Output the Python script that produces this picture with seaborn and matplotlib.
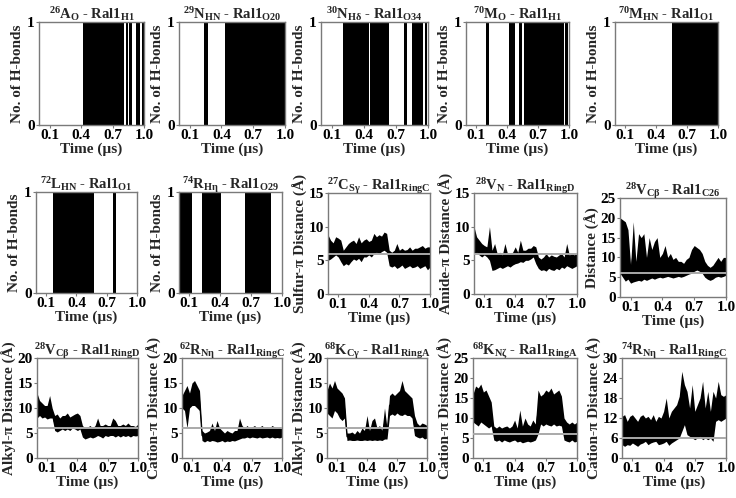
import numpy as np
import pandas as pd
import matplotlib
matplotlib.use("Agg")
import matplotlib.pyplot as plt
import seaborn as sns

# ---- H-bond occupancy: intervals (µs) where the H-bond is present ----
hb_26A = [(0.42, 0.81), (0.825, 0.845), (0.86, 0.89), (0.925, 0.965), (0.98, 1.0)]
hb_29N = [(0.24, 0.27), (0.43, 1.0)]
hb_30N = [(0.21, 0.45), (0.46, 0.64), (0.78, 0.80), (0.85, 0.955), (0.97, 0.99)]
hb_70M_O = [(0.19, 0.22), (0.42, 0.48), (0.515, 0.545), (0.565, 0.95), (0.965, 0.99)]
hb_70M_HN = [(0.55, 1.0)]
hb_72L = [(0.167, 0.577), (0.76, 0.79)]
hb_74R = [(0.0, 0.123), (0.22, 0.41), (0.64, 0.89)]

# ---- distance traces: lower / upper envelope every 0.025 µs ----
time = np.round(np.arange(41) * 0.025, 3)

c27_lo = [5.0, 5.2, 5.5, 5.8, 5.5, 4.8, 4.2, 4.5, 4.3, 4.8, 5.2, 5.0, 5.3, 4.8, 5.5, 5.5, 5.8, 5.5, 6.0, 6.2, 6.0,
          6.3, 6.5, 6.2, 4.2, 4.0, 4.2, 3.8, 4.0, 4.3, 3.8, 4.0, 4.2, 3.9, 4.0, 4.2, 3.8, 4.0, 4.2, 3.6, 4.0]
c27_hi = [8.8, 8.0, 7.6, 8.5, 8.3, 8.0, 6.5, 7.0, 7.5, 7.8, 8.0, 7.5, 8.5, 7.6, 8.0, 8.2, 7.8, 8.0, 9.0, 8.5, 8.8,
          8.6, 9.2, 9.0, 6.5, 6.2, 6.5, 7.5, 6.5, 6.8, 6.5, 6.6, 7.0, 6.5, 6.8, 6.8, 7.0, 7.2, 6.8, 7.0, 7.0]

v28n_lo = [6.0, 6.2, 5.8, 5.5, 5.8, 5.5, 5.0, 3.5, 3.6, 3.8, 4.0, 3.8, 4.0, 4.2, 4.0, 4.3, 4.5, 4.6, 4.8, 4.7, 5.0,
           5.0, 5.2, 5.5, 4.5, 3.8, 3.5, 3.6, 3.4, 3.8, 3.6, 3.5, 3.8, 3.6, 4.0, 3.8, 4.2, 4.0, 3.8, 4.0, 4.2]
v28n_hi = [10.0, 8.5, 8.0, 7.5, 7.2, 7.0, 10.0, 6.5, 7.5, 6.0, 6.2, 5.8, 7.5, 6.0, 6.0, 6.2, 7.0, 6.2, 8.0, 6.5, 6.5,
           6.8, 6.8, 7.2, 7.0, 5.5, 5.2, 5.5, 6.0, 5.5, 5.8, 5.6, 5.5, 5.8, 6.0, 5.5, 7.5, 5.8, 6.0, 5.8, 6.3]

v28c26_lo = [6.0, 5.0, 4.0, 4.5, 3.5, 3.8, 4.0, 4.2, 4.0, 4.5, 4.2, 4.5, 4.8, 4.5, 4.8, 5.0, 4.8, 5.0, 5.2, 5.0, 4.8,
             5.0, 5.2, 5.0, 5.2, 5.5, 5.8, 6.0, 6.5, 6.8, 6.5, 6.0, 5.0, 4.5, 4.2, 4.5, 5.0, 5.2, 5.0, 5.2, 5.5]
v28c26_hi = [20.0, 19.5, 19.0, 17.0, 8.0, 19.0, 9.0, 16.0, 15.0, 16.0, 10.0, 15.0, 12.0, 14.0, 15.0, 10.0, 11.0, 13.0,
             10.0, 11.0, 9.5, 10.0, 9.0, 9.0, 8.5, 9.5, 10.0, 12.0, 13.0, 12.5, 12.0, 11.0, 9.0, 8.0, 7.5, 8.0, 9.0,
             10.0, 9.0, 10.0, 10.0]

v28d_lo = [8.0, 8.5, 8.0, 8.2, 7.8, 8.0, 8.0, 5.5, 5.2, 5.5, 5.8, 5.5, 5.8, 5.5, 6.0, 5.8, 5.5, 5.8, 4.2, 3.8, 4.0,
           4.2, 4.0, 4.2, 4.5, 4.3, 4.0, 4.5, 4.3, 4.5, 4.5, 4.2, 4.5, 4.2, 4.5, 4.3, 4.5, 4.2, 4.5, 4.4, 4.5]
v28d_hi = [13.0, 11.5, 11.0, 10.5, 10.5, 12.5, 10.0, 8.5, 8.8, 8.0, 8.5, 8.5, 9.0, 8.2, 8.5, 8.8, 9.0, 8.5, 6.5, 6.0,
           6.2, 6.5, 6.0, 6.5, 8.0, 6.5, 6.5, 6.8, 6.5, 6.5, 8.0, 7.5, 6.5, 6.5, 6.8, 6.5, 7.0, 6.5, 6.5, 6.3, 6.8]

r62_lo = [10.0, 9.5, 6.0, 10.0, 10.5, 10.5, 10.0, 9.5, 3.5, 3.2, 3.5, 3.3, 3.5, 3.4, 3.2, 3.3, 3.5, 3.2, 3.4, 3.3,
          3.5, 3.4, 3.6, 3.8, 4.0, 4.0, 4.2, 4.0, 4.2, 4.1, 4.0, 4.2, 4.0, 4.1, 4.2, 4.0, 4.2, 4.0, 4.1, 4.0, 4.2]
r62_hi = [12.5, 13.5, 14.5, 13.0, 15.0, 15.5, 14.5, 13.5, 5.5, 5.0, 5.2, 5.5, 7.0, 5.5, 7.5, 6.0, 5.5, 5.0, 5.5, 5.2,
          5.0, 5.5, 5.5, 8.0, 6.5, 6.0, 6.5, 6.0, 6.2, 6.5, 6.0, 6.2, 6.5, 6.0, 6.2, 6.0, 6.5, 6.2, 6.0, 6.2, 6.0]

k68c_lo = [9.0, 8.5, 8.0, 9.5, 9.0, 8.0, 7.5, 8.0, 3.5, 3.6, 3.5, 3.5, 3.6, 3.5, 3.5, 3.6, 3.5, 3.6, 3.5, 3.6, 3.5,
           3.6, 3.5, 3.8, 3.8, 8.5, 8.8, 8.5, 9.0, 8.6, 8.5, 8.8, 8.5, 8.5, 8.0, 4.5, 4.2, 4.0, 4.2, 3.8, 4.0]
k68c_hi = [13.5, 15.0, 14.0, 15.5, 14.0, 13.5, 13.0, 12.0, 5.0, 5.0, 5.2, 4.8, 5.5, 5.0, 6.0, 5.5, 8.5, 5.5, 7.5, 8.0,
           6.0, 6.5, 5.5, 10.0, 6.0, 12.5, 13.0, 12.5, 13.0, 13.5, 15.5, 13.5, 13.0, 12.5, 12.0, 8.5, 7.0, 6.5, 7.0,
           6.8, 6.5]

k68n_lo = [9.0, 8.5, 8.0, 9.0, 8.5, 8.0, 7.5, 8.0, 4.5, 4.2, 4.5, 4.0, 4.5, 4.2, 4.0, 4.3, 4.5, 4.0, 4.2, 3.8, 4.0,
           4.2, 4.0, 4.2, 4.5, 6.0, 8.5, 8.0, 8.5, 8.2, 8.0, 8.5, 8.0, 8.2, 8.0, 4.5, 4.2, 4.0, 4.5, 4.0, 4.2]
k68n_hi = [16.0, 18.0, 17.5, 18.5, 16.5, 17.0, 15.5, 14.0, 8.0, 7.5, 8.0, 7.5, 7.8, 8.0, 7.5, 8.0, 9.5, 7.5, 12.0,
           8.0, 10.0, 8.5, 8.0, 9.5, 8.5, 17.0, 15.5, 16.0, 17.0, 16.5, 17.5, 16.0, 16.5, 17.0, 15.5, 10.0, 9.0, 8.5,
           9.0, 8.5, 9.0]

r74_lo = [4.0, 3.5, 4.0, 3.8, 4.5, 4.0, 3.5, 4.2, 4.5, 5.0, 4.0, 4.5, 4.8, 5.0, 4.0, 4.2, 4.5, 5.0, 3.8, 4.5, 5.0,
          5.5, 6.0, 8.0, 10.0, 7.0, 6.5, 6.0, 5.5, 6.0, 6.5, 5.5, 6.0, 5.5, 6.0, 5.0, 11.0, 11.5, 11.0, 11.5, 12.0]
r74_hi = [12.5, 13.0, 11.0, 12.5, 13.0, 12.0, 11.0, 12.5, 13.0, 12.0, 12.5, 11.5, 13.0, 11.0, 12.5, 12.0, 14.0, 18.0,
          12.0, 14.0, 15.0, 16.0, 18.5, 26.0, 22.0, 20.0, 15.0, 22.0, 14.0, 16.0, 18.0, 23.0, 15.0, 20.0, 14.0, 20.0,
          18.0, 23.0, 19.0, 18.5, 19.0]

time_ticks = [0.1, 0.4, 0.7, 1.0]
cutoff = 6.0

sns.set_theme(style="white")
plt.rcParams["font.family"] = ["Liberation Serif", "DejaVu Serif"]
plt.rcParams["font.weight"] = "bold"
plt.rcParams["mathtext.fontset"] = "custom"
plt.rcParams["mathtext.rm"] = "Liberation Serif:bold"
plt.rcParams["mathtext.it"] = "Liberation Serif:bold"
plt.rcParams["mathtext.bf"] = "Liberation Serif:bold"

W, H = 736, 498
fig = plt.figure(figsize=(W / 100, H / 100), dpi=100)


def make_ax(l, t, r, b):
    ax = fig.add_axes([l / W, 1 - b / H, (r - l) / W, (b - t) / H])
    for s in ax.spines.values():
        s.set_color("#7a7a7a")
        s.set_linewidth(1.0)
    ax.tick_params(axis="both", length=2, width=0.8, color="#7a7a7a", pad=1,
                   labelsize=11, labelcolor="black", bottom=True, left=True)
    ax.set_xlim(0, 1.0)
    ax.set_xticks(time_ticks)
    ax.set_xticklabels(["0.1", "0.4", "0.7", "1.0"])
    ax.set_xlabel("Time (µs)", fontsize=11, fontweight="bold", labelpad=0)
    return ax


def hbond_panel(box, intervals, title):
    ax = make_ax(*box)
    for a, b in intervals:
        ax.axvspan(a, b, color="black", lw=0)
    ax.set_ylim(0, 1)
    ax.set_yticks([0, 1])
    ax.set_ylabel("No. of H-bonds", fontsize=11, fontweight="bold", labelpad=2)
    ax.set_title(title, fontsize=10.5, fontweight="bold", pad=2)


def dist_panel(box, lo, hi, ymax, yticks, ylabel, title):
    ax = make_ax(*box)
    df = pd.DataFrame({"t": np.concatenate([time, time]),
                       "d": np.concatenate([lo, hi])})
    sns.lineplot(data=df, x="t", y="d", estimator="mean", errorbar=("pi", 100),
                 color="black", lw=0.8, err_kws={"alpha": 1, "linewidth": 0}, ax=ax)
    ax.axhline(cutoff, color="#a9a9a9", lw=1.4, zorder=5)
    ax.set_xlim(0, 1.0)
    ax.set_ylim(0, ymax)
    ax.set_yticks(yticks)
    ax.set_xlabel("Time (µs)", fontsize=11, fontweight="bold", labelpad=0)
    ax.set_ylabel(ylabel, fontsize=11, fontweight="bold", labelpad=0)
    ax.set_title(title, fontsize=10.5, fontweight="bold", pad=2)


# row 1
hbond_panel((39, 22, 144, 125), hb_26A, r"$^{26}$A$_{\mathrm{O}}$ - Ral1$_{\mathrm{H1}}$")
hbond_panel((179, 22, 285, 125), hb_29N, r"$^{29}$N$_{\mathrm{HN}}$ - Ral1$_{\mathrm{O20}}$")
hbond_panel((321, 22, 428, 125), hb_30N, r"$^{30}$N$_{\mathrm{Hδ}}$ - Ral1$_{\mathrm{O34}}$")
hbond_panel((466, 22, 569, 125), hb_70M_O, r"$^{70}$M$_{\mathrm{O}}$ - Ral1$_{\mathrm{H1}}$")
hbond_panel((615, 22, 718, 125), hb_70M_HN, r"$^{70}$M$_{\mathrm{HN}}$ - Ral1$_{\mathrm{O1}}$")

# row 2
hbond_panel((36, 192, 137, 293), hb_72L, r"$^{72}$L$_{\mathrm{HN}}$ - Ral1$_{\mathrm{O1}}$")
hbond_panel((179, 192, 282, 293), hb_74R, r"$^{74}$R$_{\mathrm{Hη}}$ - Ral1$_{\mathrm{O29}}$")
dist_panel((328, 193, 430, 294), c27_lo, c27_hi, 15, [0, 5, 10, 15], "Sulfur-π Distance (Å)",
           r"$^{27}$C$_{\mathrm{Sγ}}$ - Ral1$_{\mathrm{RingC}}$")
dist_panel((474, 193, 577, 294), v28n_lo, v28n_hi, 15, [0, 5, 10, 15], "Amide-π Distance (Å)",
           r"$^{28}$V$_{\mathrm{N}}$ - Ral1$_{\mathrm{RingD}}$")
dist_panel((620, 198, 726, 297), v28c26_lo, v28c26_hi, 25, [0, 5, 10, 15, 20, 25], "Distance (Å)",
           r"$^{28}$V$_{\mathrm{Cβ}}$ - Ral1$_{\mathrm{C26}}$")

# row 3
dist_panel((37, 358, 138, 458), v28d_lo, v28d_hi, 20, [0, 5, 10, 15, 20], "Alkyl-π Distance (Å)",
           r"$^{28}$V$_{\mathrm{Cβ}}$ - Ral1$_{\mathrm{RingD}}$")
dist_panel((182, 358, 282, 458), r62_lo, r62_hi, 20, [0, 5, 10, 15, 20], "Cation-π Distance (Å)",
           r"$^{62}$R$_{\mathrm{Nη}}$ - Ral1$_{\mathrm{RingC}}$")
dist_panel((327, 358, 427, 458), k68c_lo, k68c_hi, 20, [0, 5, 10, 15, 20], "Alkyl-π Distance (Å)",
           r"$^{68}$K$_{\mathrm{Cγ}}$ - Ral1$_{\mathrm{RingA}}$")
dist_panel((473, 358, 577, 458), k68n_lo, k68n_hi, 25, [0, 5, 10, 15, 20, 25], "Cation-π Distance (Å)",
           r"$^{68}$K$_{\mathrm{Nζ}}$ - Ral1$_{\mathrm{RingA}}$")
dist_panel((622, 358, 726, 458), r74_lo, r74_hi, 30, [0, 6, 12, 18, 24, 30], "Cation-π Distance (Å)",
           r"$^{74}$R$_{\mathrm{Nη}}$ - Ral1$_{\mathrm{RingC}}$")

fig.savefig("out.png", dpi=100, facecolor="white")
